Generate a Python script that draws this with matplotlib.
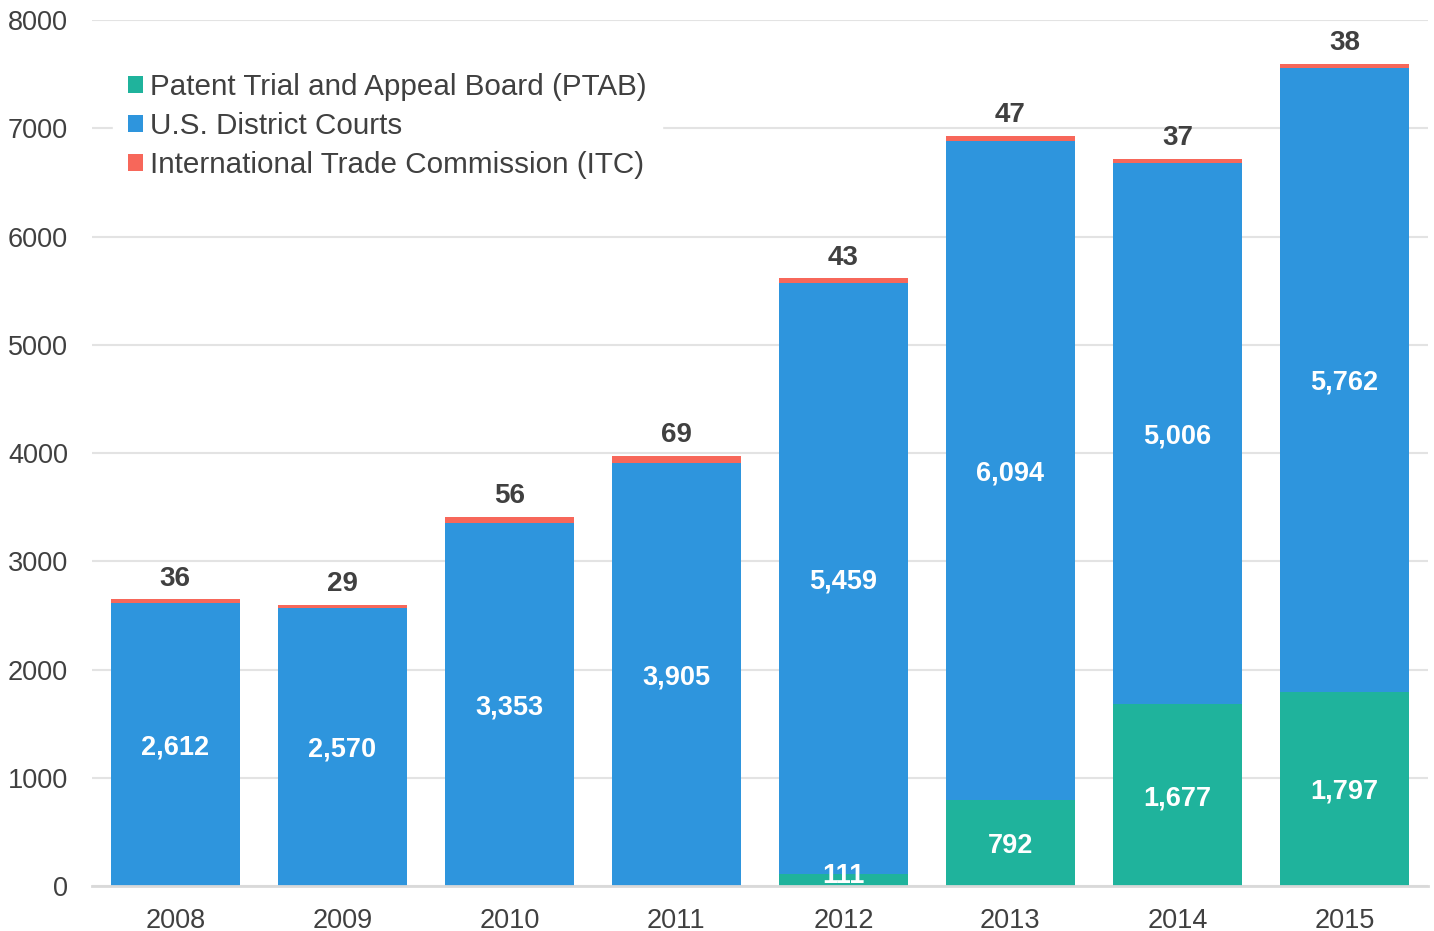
import numpy as np
import matplotlib.pyplot as plt

plt.rcParams['font.family'] = ['Liberation Sans', 'DejaVu Sans']

# Data
years = ['2008', '2009', '2010', '2011', '2012', '2013', '2014', '2015']
ptab = [0, 0, 0, 0, 111, 792, 1677, 1797]
district = [2612, 2570, 3353, 3905, 5459, 6094, 5006, 5762]
itc = [36, 29, 56, 69, 43, 47, 37, 38]

c_ptab = '#1FB39C'
c_dist = '#2E95DD'
c_itc = '#F7675A'
txt = '#404040'

fig = plt.figure(figsize=(14.34, 9.31), dpi=100)
ax = fig.add_axes([0.064, 0.0483, 0.9318, 0.9302])

x = np.arange(len(years))
w = 0.773
ptab = np.array(ptab)
district = np.array(district)
itc = np.array(itc)

ax.bar(x, ptab, w, color=c_ptab, label='Patent Trial and Appeal Board (PTAB)', zorder=3)
ax.bar(x, district, w, bottom=ptab, color=c_dist, label='U.S. District Courts', zorder=3)
ax.bar(x, itc, w, bottom=ptab + district, color=c_itc,
       label='International Trade Commission (ITC)', zorder=3)

# labels inside segments (nudged down a little, like the original)
for i in range(len(x)):
    if ptab[i] > 0:
        ax.annotate(f'{ptab[i]:,}', (x[i], max(ptab[i] / 2, 120)), xytext=(0, -2),
                    textcoords='offset points', ha='center', va='center',
                    color='white', fontsize=19.5, fontweight='bold', zorder=4)
    ax.annotate(f'{district[i]:,}', (x[i], ptab[i] + district[i] / 2), xytext=(0, -2),
                textcoords='offset points', ha='center', va='center',
                color='white', fontsize=19.5, fontweight='bold', zorder=4)
    top = ptab[i] + district[i] + itc[i]
    ax.annotate(f'{itc[i]}', (x[i], top), xytext=(0, 15), textcoords='offset points',
                ha='center', va='center', color=txt, fontsize=20, fontweight='bold')

ax.set_xlim(-0.5, len(years) - 0.5)
ax.set_ylim(0, 8000)
ax.set_yticks(range(0, 8001, 1000))
ax.set_xticks(x)
ax.set_xticklabels(years)
ax.tick_params(axis='both', length=0, labelsize=19.5, labelcolor=txt)
ax.tick_params(axis='y', pad=17)
ax.tick_params(axis='x', pad=15.5)

ax.grid(axis='y', color='#E3E3E3', linewidth=1.5, zorder=0)
for s in ['top', 'right', 'left']:
    ax.spines[s].set_visible(False)
ax.spines['bottom'].set_color('#D9D9D9')
ax.spines['bottom'].set_linewidth(2)
ax.spines['bottom'].set_zorder(5)

leg = ax.legend(loc='upper left', bbox_to_anchor=(0.016, 0.956), fontsize=21.3,
                frameon=True, fancybox=False, edgecolor='white', facecolor='white',
                framealpha=1, handlelength=0.5, handleheight=0.5, handletextpad=0.25,
                labelspacing=0.37, borderpad=0.5, borderaxespad=0)
for t in leg.get_texts():
    t.set_color(txt)
leg.set_zorder(6)

fig.savefig('out.png', dpi=100)
